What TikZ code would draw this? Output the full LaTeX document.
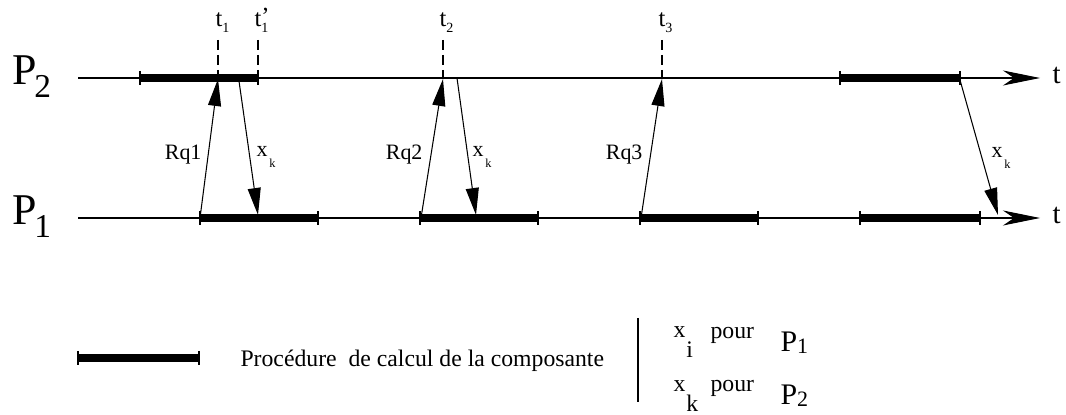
\documentclass[tikz,border=0pt]{standalone}
\usepackage{fontspec}
\setmainfont{Liberation Serif}
\usetikzlibrary{arrows.meta, positioning}

\newcommand{\lsub}[4]{#1\raisebox{-#2}{\fontsize{#3}{#3}\selectfont #4}}

\begin{document}
\begin{tikzpicture}[x=0.02cm, y=-0.02cm, line width=0.6pt,
    axis/.style={-{Stealth[length=7.4mm, width=3mm, inset=2.2mm]}},
    msg/.style={-{Triangle[length=5.4mm, width=2.6mm]}},
    procbar/.style={line width=4pt},
    marker/.style={dash pattern=on 5.5pt off 3pt},
    plabel/.style={inner sep=0pt, anchor=base west, font=\fontsize{25}{28}\selectfont},
    tlabel/.style={inner sep=0pt, anchor=base west, font=\fontsize{16.5}{18}\selectfont},
    tmark/.style={inner sep=0pt, anchor=base west, font=\fontsize{14}{16}\selectfont},
    rqlabel/.style={inner sep=0pt, anchor=base east, font=\fontsize{12.5}{14}\selectfont},
    xlabel/.style={inner sep=0pt, anchor=base west, font=\fontsize{12.5}{14}\selectfont},
    legend/.style={inner sep=0pt, anchor=base west, font=\fontsize{13.5}{15}\selectfont},
    plegend/.style={inner sep=0pt, anchor=base west, font=\fontsize{17}{19}\selectfont}]

  \useasboundingbox (0,0) rectangle (1066,415);

  % processes and time axes
  \node[plabel] (P2) at (12,85) {\lsub{P\kern-1.5pt}{7.4pt}{19}{2}};
  \node[plabel] (P1) at (12,225) {\lsub{P\kern-1.5pt}{7.4pt}{19}{1}};
  \coordinate (p2a) at (78,78);
  \coordinate (p2b) at (1040,78);
  \coordinate (p1a) at (78,218);
  \coordinate (p1b) at (1040,218);
  \draw[axis] (p2a) -- (p2b);
  \draw[axis] (p1a) -- (p1b);
  \node[tlabel] (tP2) at (1052,84) {t};
  \node[tlabel] (tP1) at (1052,224) {t};

  % calculation phases
  \foreach \a/\b/\y in {140/258/78, 840/960/78, 200/318/218, 420/538/218, 640/758/218, 860/980/218}{
    \draw[procbar] (\a,\y) -- (\b,\y);
    \draw (\a,\y-7) -- (\a,\y+7) (\b,\y-7) -- (\b,\y+7);
  }

  % instants
  \node[tmark] (t1) at (215,27) {\lsub{t}{3.4pt}{8}{1}};
  \node[tmark] (t1p) at (254,27) {t\rlap{\raisebox{1.5pt}{’}}\lsub{}{3.4pt}{8}{1}};
  \node[tmark] (t2) at (439,27) {\lsub{t}{3.4pt}{8}{2}};
  \node[tmark] (t3) at (658,27) {\lsub{t}{3.4pt}{8}{3}};
  \coordinate (m1) at (218,40);
  \coordinate (m1p) at (258,40);
  \coordinate (m2) at (443,40);
  \coordinate (m3) at (662,40);

  % messages
  \coordinate (s1) at (200,218);
  \coordinate (q1) at (218,79);
  \coordinate (a1) at (239,81);
  \coordinate (e1) at (258,215);
  \coordinate (s2) at (421,218);
  \coordinate (q2) at (443,79);
  \coordinate (a2) at (457,78);
  \coordinate (e2) at (476,215);
  \coordinate (s3) at (641,218);
  \coordinate (q3) at (662,79);
  \coordinate (a3) at (960,80);
  \coordinate (e3) at (998,215);

  \draw[marker] (m1) -- (m1 |- p2a);
  \draw[marker] (m1p) -- (m1p |- p2a);
  \draw[marker] (m2) -- (m2 |- p2a);
  \draw[marker] (m3) -- (m3 |- p2a);

  \draw[msg] (s1) -- (q1);
  \draw[msg] (a1) -- (e1);
  \draw[msg] (s2) -- (q2);
  \draw[msg] (a2) -- (e2);
  \draw[msg] (s3) -- (q3);
  \draw[msg] (a3) -- (e3);

  \node[rqlabel] (lrq1) at (202,160) {Rq1};
  \node[rqlabel] (lrq2) at (423,160) {Rq2};
  \node[rqlabel] (lrq3) at (643,160) {Rq3};
  \node[xlabel] (lxk1) at (256,157) {\lsub{x\kern1pt}{6pt}{7}{k}};
  \node[xlabel] (lxk2) at (472,157) {\lsub{x\kern1pt}{6pt}{7}{k}};
  \node[xlabel] (lxk3) at (991,158) {\lsub{x\kern1pt}{6pt}{7}{k}};

  % legend
  \coordinate (la) at (78,358);
  \coordinate (lb) at (199,358);
  \draw[procbar] (la) -- (lb);
  \draw (78,351) -- (78,365) (199,351) -- (199,365);
  \node[legend] (ltxt) at (240,367) {Procédure~ de calcul de la composante};
  \draw (638,318) -- (638,402);
  \node[legend] (xi) at (673,338) {\lsub{x\kern0.5pt}{11pt}{13.5}{i}};
  \node[legend] (pour1) at (710,339) {pour};
  \node[plegend] (lP1) at (780,352) {\lsub{P}{1pt}{12.5}{1}};
  \node[legend] (xk) at (673,392) {\lsub{x\kern0.5pt}{11pt}{13.5}{k}};
  \node[legend] (pour2) at (710,392) {pour};
  \node[plegend] (lP2) at (780,405) {\lsub{P}{1pt}{12.5}{2}};
\end{tikzpicture}
\end{document}
